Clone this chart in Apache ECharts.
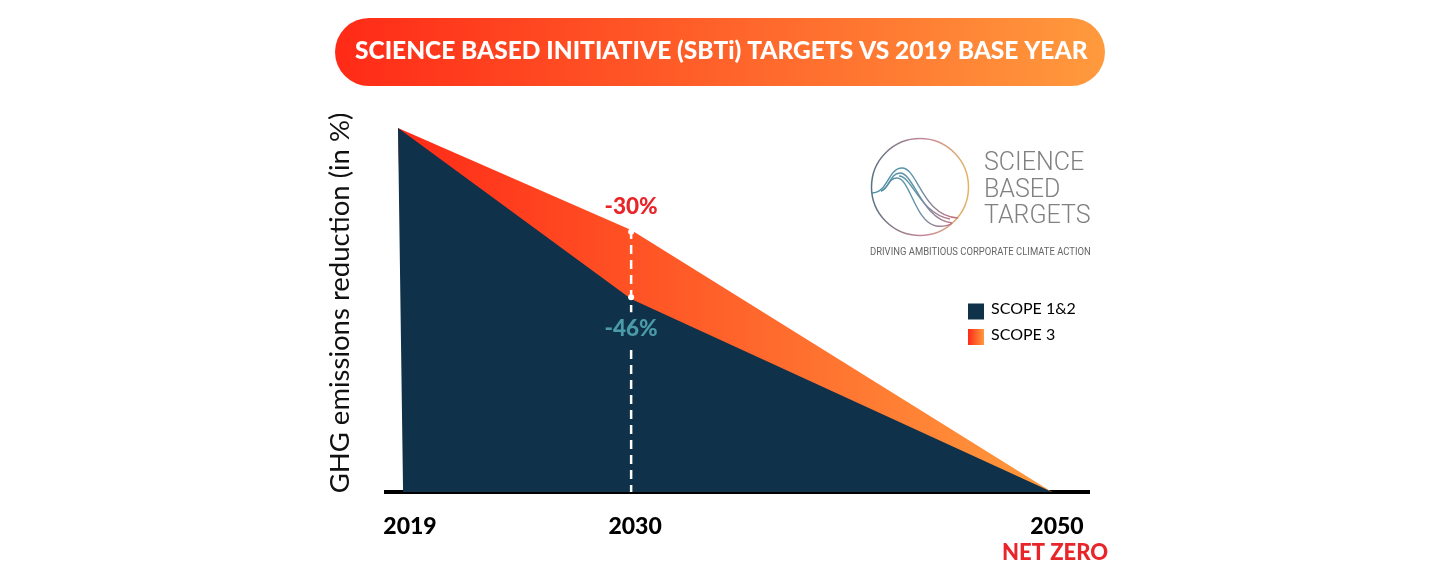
<!DOCTYPE html>
<html>
<head>
<meta charset="utf-8">
<title>SBTi targets</title>
<script src="https://cdn.jsdelivr.net/npm/echarts@6/dist/echarts.min.js"></script>
<style>
  html, body { margin: 0; padding: 0; background: #fff; }
  #chart { width: 1446px; height: 571px; }
</style>
</head>
<body>
<div id="chart"></div>
<script>
// values
const tickYears = [2019, 2030, 2050];
const scope12Years = [2019.24, 2019, 2030.05, 2050];
const scope12Values = [0, 100, 53, 0];
const scope3Years = [2019.4, 2019, 2030.05, 2050];
const scope3Values = [0, 100, 72, 0];
const dropYears = [2030.05, 2030.05];
const dropValues = [72, 0];
const pointYears = [2030.05, 2030.05];
const pointValues = [71.5, 53.5];
const pointLabels = ['-30%', '-46%'];

const FONT = 'Lato, "Noto Sans", sans-serif';
const NAVY = '#0f3149';
const RED = '#e8262a';
const TEAL = '#4a9aa8';

const hGradient = (a, b) => new echarts.graphic.LinearGradient(0, 0, 1, 0, [
  { offset: 0, color: a }, { offset: 1, color: b },
]);

// logo curves: start, control 1, control 2, end
const logoGradient = new echarts.graphic.LinearGradient(872, 0, 958, 0, [
  { offset: 0, color: '#4b8fa3' }, { offset: 0.5, color: '#5f94a8' }, { offset: 1, color: '#cf6f80' },
], true);
const logoCurve = (x1, y1, cpx1, cpy1, cpx2, cpy2, x2, y2) => ({
  type: 'bezierCurve',
  shape: { x1, y1, cpx1, cpy1, cpx2, cpy2, x2, y2 },
  style: { fill: null, stroke: logoGradient, lineWidth: 1.4 },
});
const logoText = (text, x, y, size, color, weight, scaleX) => ({
  type: 'text',
  x, y,
  scaleX,
  style: { text, fill: color, fontFamily: 'Roboto', fontSize: size, fontWeight: weight, verticalAlign: 'middle' },
});

const chart = echarts.init(document.getElementById('chart'));
chart.setOption({
  animation: false,
  backgroundColor: '#fff',
  title: {
    text: 'SCIENCE BASED INITIATIVE (SBTi) TARGETS VS 2019 BASE YEAR',
    left: 355,
    top: 39,
    padding: 0,
    z: 10,
    textStyle: { color: '#fff', fontFamily: FONT, fontWeight: 900, fontSize: 24.5 },
  },
  legend: {
    data: [{ name: 'SCOPE 1&2', icon: 'rect' }, { name: 'SCOPE 3', icon: 'rect' }],
    orient: 'vertical',
    left: 968,
    top: 301,
    padding: 0,
    itemWidth: 16,
    itemHeight: 16,
    itemGap: 7,
    selectedMode: false,
    formatter: '{scope|{name}}',
    textStyle: {
      rich: { scope: { fontFamily: FONT, fontSize: 16, color: '#000', padding: [0, 0, 5, 2] } },
    },
  },
  grid: { left: 384, right: 356, top: 128, bottom: 79 },
  xAxis: {
    type: 'value',
    min: 2018.336,
    max: 2051.8,
    splitLine: { show: false },
    axisTick: { show: false },
    axisLine: { show: true, onZero: false, lineStyle: { color: '#000', width: 4, cap: 'butt' } },
    axisLabel: {
      customValues: tickYears,
      margin: 22,
      lineHeight: 26,
      formatter: v => v === 2019 ? `{first|${v}}`
        : v === 2050 ? `{year|${v}}\n{net|NET ZERO}` : `{year|${v}}`,
      rich: {
        first: { fontFamily: FONT, fontWeight: 900, fontSize: 23, color: '#000', padding: [0, 0, 0, 24] },
        year: { fontFamily: FONT, fontWeight: 900, fontSize: 23, color: '#000', padding: [0, 0, 0, 10] },
        net: { fontFamily: FONT, fontWeight: 900, fontSize: 22, color: RED, padding: [0, 0, 0, 6] },
      },
    },
  },
  yAxis: {
    type: 'value',
    min: 0,
    max: 100,
    axisLine: { show: false },
    axisTick: { show: false },
    axisLabel: { show: false },
    splitLine: { show: false },
    name: 'GHG emissions reduction (in %)',
    nameLocation: 'middle',
    nameGap: 30,
    nameTextStyle: { fontFamily: FONT, fontSize: 27.5, color: '#111', padding: [0, 0, 0, 14] },
  },
  series: [
    {
      name: 'SCOPE 3',
      type: 'line',
      data: scope3Years.map((y, i) => [y, scope3Values[i]]),
      showSymbol: false,
      z: 2,
      lineStyle: { width: 0 },
      itemStyle: { color: hGradient('#ff2a17', '#ff9a3d') },
      areaStyle: { color: new echarts.graphic.LinearGradient(398, 0, 1051, 0, [
        { offset: 0, color: '#ff2a17' }, { offset: 1, color: '#ff9a3d' },
      ], true), opacity: 1 },
    },
    {
      name: 'SCOPE 1&2',
      type: 'line',
      data: scope12Years.map((y, i) => [y, scope12Values[i]]),
      showSymbol: false,
      z: 3,
      lineStyle: { width: 0 },
      itemStyle: { color: NAVY },
      areaStyle: { color: NAVY, opacity: 1 },
    },
    {
      name: 'drop',
      type: 'line',
      data: dropYears.map((y, i) => [y, dropValues[i]]),
      showSymbol: false,
      z: 4,
      lineStyle: { color: '#fff', width: 2.5, type: [9, 6] },
    },
    {
      name: 'points',
      type: 'scatter',
      // -46% sits below its point, on a navy patch that breaks the dashed line
      data: pointYears.map((y, i) => ({
        value: [y, pointValues[i]],
        label: i === 1 ? {
          position: 'bottom',
          distance: 12,
          color: TEAL,
          backgroundColor: NAVY,
          padding: [5, 2, 5, 2],
        } : {},
      })),
      symbolSize: 6,
      z: 5,
      itemStyle: { color: '#fff', opacity: 1 },
      label: {
        show: true,
        position: 'top',
        distance: 10,
        fontFamily: FONT,
        fontWeight: 900,
        fontSize: 22.5,
        color: RED,
        formatter: p => pointLabels[p.dataIndex],
      },
    },
  ],
  graphic: [
    {
      type: 'rect',
      z: -1,
      shape: { x: 335, y: 18, width: 770, height: 68, r: 34 },
      style: { fill: hGradient('#ff2a17', '#ff9a3d') },
    },
    {
      type: 'circle',
      shape: { cx: 920, cy: 187, r: 48.5 },
      style: {
        fill: null,
        lineWidth: 1.5,
        stroke: new echarts.graphic.LinearGradient(0, 0, 1, 0, [
          { offset: 0, color: '#55707f' }, { offset: 0.55, color: '#c98a9a' }, { offset: 1, color: '#e3b661' },
        ]),
      },
    },
    logoCurve(872, 193, 888, 193, 888, 168, 902, 168),
    logoCurve(902, 168, 918, 168, 922, 216, 958, 218),
    logoCurve(881, 191, 890, 188, 890, 173, 900, 173),
    logoCurve(900, 173, 914, 173, 922, 220, 952, 223),
    logoCurve(881, 191, 888, 189, 888, 178, 897, 178),
    logoCurve(897, 178, 910, 178, 915, 222, 936, 226),
    logoCurve(936, 226, 944, 227, 950, 225, 952, 223),
    logoCurve(899, 176, 912, 176, 920, 214, 950, 219),
    logoText('SCIENCE', 984, 164, 25, '#808080', 300, 1),
    logoText('BASED', 984, 191, 25, '#808080', 300, 1),
    logoText('TARGETS', 984, 217, 25, '#808080', 300, 1),
    logoText('DRIVING AMBITIOUS CORPORATE CLIMATE ACTION', 870, 252, 11, '#666', 400, 0.86),
  ],
});
</script>
</body>
</html>
